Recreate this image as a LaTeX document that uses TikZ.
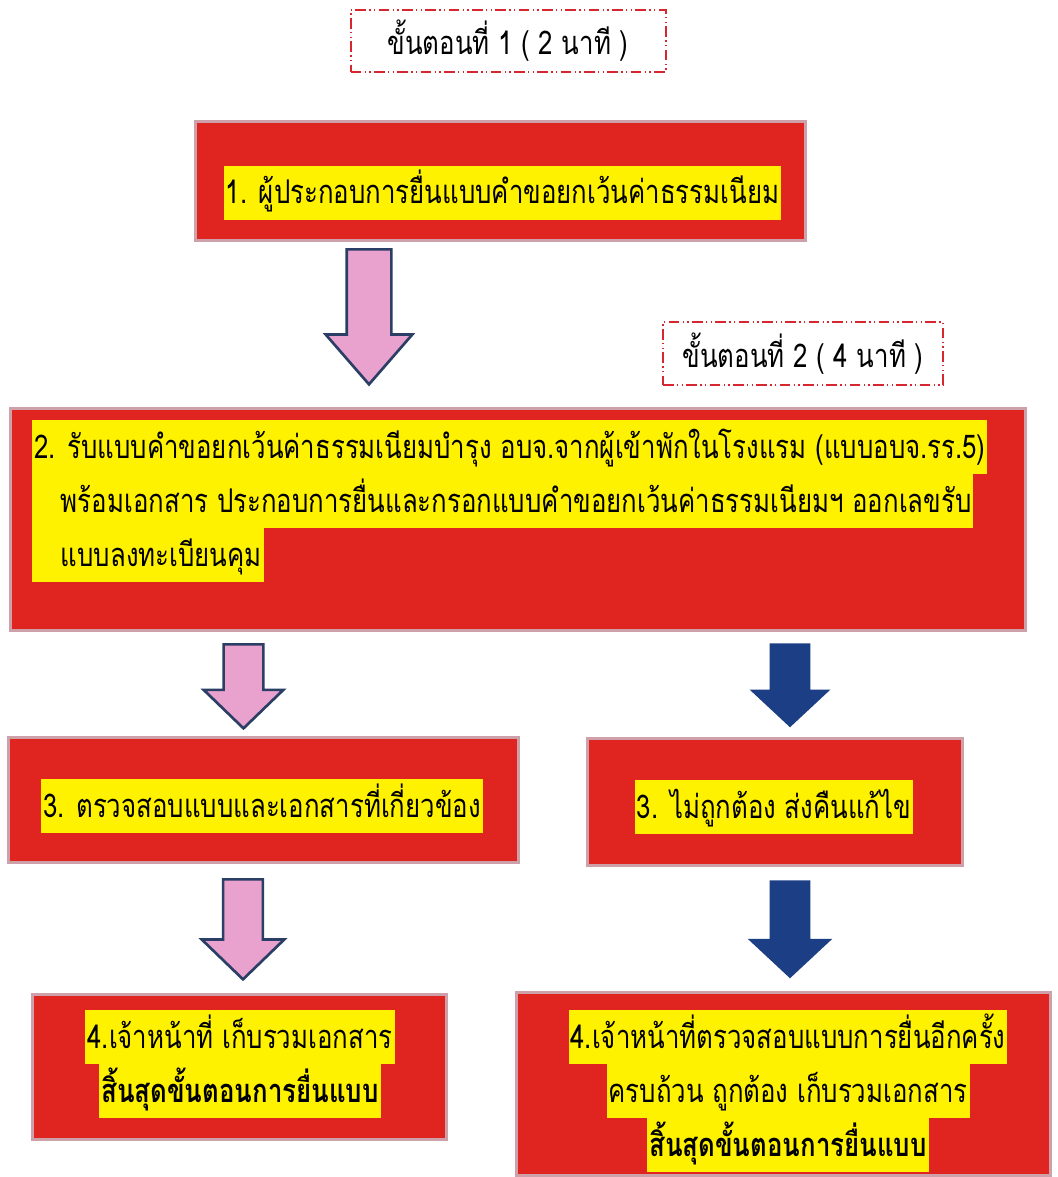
\documentclass[tikz,border=0pt]{standalone}
\usepackage{fontspec}
\usepackage{tikz}
\usetikzlibrary{shapes.arrows}
\newfontfamily\thai[Script=Thai, FakeStretch=0.79]{Loma}

\definecolor{boxred}{RGB}{224,36,32}
\definecolor{boxedge}{RGB}{205,160,170}
\definecolor{hlyellow}{RGB}{255,242,0}
\definecolor{arrowpink}{RGB}{232,162,205}
\definecolor{arrowline}{RGB}{42,62,102}
\definecolor{arrowblue}{RGB}{28,62,132}
\definecolor{dashred}{RGB}{214,38,48}

\tikzset{
	redbox/.style={draw=boxedge, line width=2.25pt, fill=boxred, inner sep=0pt},
	hl/.style={fill=hlyellow, inner xsep=1.5pt, inner ysep=0pt, text height=28.5pt, text depth=12pt, anchor=base, font=\thai\fontsize{24.5}{28}\selectfont},
	steplbl/.style={draw=dashred, line width=1.5pt, dash pattern=on 8pt off 2.5pt on 1pt off 2.5pt on 1pt off 2.5pt, inner sep=0pt, font=\thai\fontsize{24.5}{28}\selectfont},
	pinkarrow/.style={single arrow, draw=arrowline, fill=arrowpink, line width=2pt, inner xsep=0pt, rotate=-90, anchor=tail},
	bluearrow/.style={single arrow, fill=arrowblue, inner xsep=0pt, rotate=-90, anchor=tail},
}

\begin{document}
\begin{tikzpicture}[x=0.75pt,y=0.75pt,yscale=-1,xscale=1]
				\path[use as bounding box, fill=white] (0,0) rectangle (1057,1177);
				
				%Shape: Step labels
				\node[steplbl, minimum width=236.25pt, minimum height=46.5pt] (s1) at (508,41) {ขั้นตอนที่ 1 ( 2 นาที )};
				\node[steplbl, minimum width=210pt, minimum height=47.25pt] (s2) at (803,353.5) {ขั้นตอนที่ 2 ( 4 นาที )};
				
				%Shape: Rectangle
				\node[redbox, minimum width=457.5pt, minimum height=88.5pt] (b1) at (500,181) {};
				%Shape: Rectangle
				\node[redbox, minimum width=761.25pt, minimum height=166.5pt] (b2) at (517.5,519) {};
				%Shape: Rectangle
				\node[redbox, minimum width=382.5pt, minimum height=93.75pt] (b3l) at (263,800) {};
				%Shape: Rectangle
				\node[redbox, minimum width=281.25pt, minimum height=95.25pt] (b3r) at (774.5,801.5) {};
				%Shape: Rectangle
				\node[redbox, minimum width=310.5pt, minimum height=108.75pt] (b4l) at (239,1066.5) {};
				%Shape: Rectangle
				\node[redbox, minimum width=400.5pt, minimum height=137.25pt] (b4r) at (783,1083.5) {};
				
				%Shape: Down Arrow
				\node[pinkarrow, inner ysep=15.75pt, single arrow head extend=15.75pt, single arrow tip angle=82, minimum height=101.25pt] (a1) at (369,248) {};
				%Shape: Down Arrow
				\node[pinkarrow, inner ysep=13.9pt, single arrow head extend=15pt, single arrow tip angle=92, minimum height=63pt] (a2l) at (243.5,643) {};
				%Shape: Down Arrow
				\node[pinkarrow, inner ysep=13.9pt, single arrow head extend=16.1pt, single arrow tip angle=92, minimum height=75pt] (a3l) at (243,878) {};
				%Shape: Down Arrow
				\node[bluearrow, inner ysep=15pt, single arrow head extend=15pt, single arrow tip angle=94, minimum height=63pt] (a2r) at (790,643) {};
				%Shape: Down Arrow
				\node[bluearrow, inner ysep=15pt, single arrow head extend=16.5pt, single arrow tip angle=94, minimum height=73.5pt] (a3r) at (790,880) {};
				
				% Text Node
				\node[hl] (t1) at (502.5,204) {1. ผู้ประกอบการยื่นแบบคำขอยกเว้นค่าธรรมเนียม};
				% Text Node
				\node[hl, anchor=base west] (t2a) at (32,458) {2. รับแบบคำขอยกเว้นค่าธรรมเนียมบำรุง อบจ.จากผู้เข้าพักในโรงแรม (แบบอบจ.รร.5)};
				% Text Node
				\node[hl, anchor=base west] (t2b) at (32,512) {\hspace*{20pt}พร้อมเอกสาร ประกอบการยื่นและกรอกแบบคำขอยกเว้นค่าธรรมเนียมฯ ออกเลขรับ};
				% Text Node
				\node[hl, anchor=base west] (t2c) at (32,566) {\hspace*{20pt}แบบลงทะเบียนคุม};
				% Text Node
				\node[hl] (t3l) at (262,817) {3. ตรวจสอบแบบและเอกสารที่เกี่ยวข้อง};
				% Text Node
				\node[hl] (t3r) at (774,818) {3. ไม่ถูกต้อง ส่งคืนแก้ไข};
				% Text Node
				\node[hl] (t4la) at (240,1048) {4.เจ้าหน้าที่ เก็บรวมเอกสาร};
				% Text Node
				\node[hl] (t4lb) at (240,1102) {\bfseries สิ้นสุดขั้นตอนการยื่นแบบ};
				% Text Node
				\node[hl] (t4ra) at (788,1048) {4.เจ้าหน้าที่ตรวจสอบแบบการยื่นอีกครั้ง};
				% Text Node
				\node[hl] (t4rb) at (788,1102) {ครบถ้วน ถูกต้อง เก็บรวมเอกสาร};
				% Text Node
				\node[hl] (t4rc) at (788,1156) {\bfseries สิ้นสุดขั้นตอนการยื่นแบบ};
				
\end{tikzpicture}
\end{document}
